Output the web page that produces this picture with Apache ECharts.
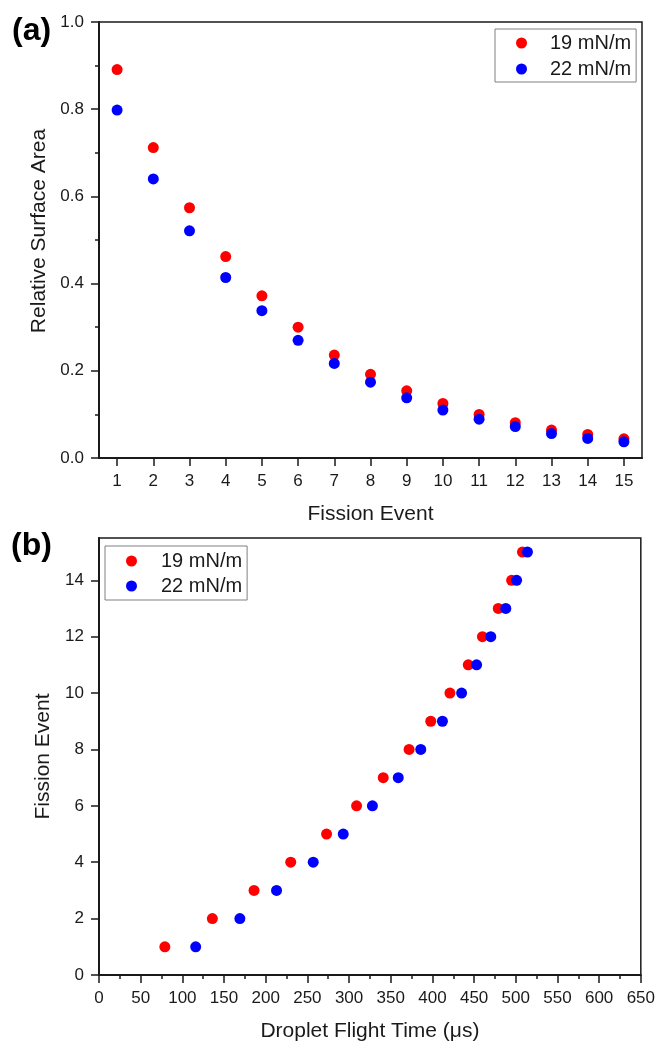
<!DOCTYPE html>
<html>
<head>
<meta charset="utf-8">
<script src="https://cdn.jsdelivr.net/npm/echarts@6/dist/echarts.min.js"></script>
<style>
html,body{margin:0;padding:0;background:#fff;}
#c{width:658px;height:1046px;}
</style>
</head>
<body>
<div id="c"></div>
<script>
// ---- Data ----
const fissionEvents = [1, 2, 3, 4, 5, 6, 7, 8, 9, 10, 11, 12, 13, 14, 15];
const seriesNames = ['19 mN/m', '22 mN/m'];
// Panel (a): relative surface area per fission event
const area19 = [0.891, 0.712, 0.574, 0.462, 0.372, 0.300, 0.236, 0.192, 0.154, 0.125, 0.100, 0.081, 0.064, 0.054, 0.044];
const area22 = [0.798, 0.640, 0.521, 0.414, 0.338, 0.270, 0.217, 0.174, 0.138, 0.110, 0.089, 0.072, 0.056, 0.045, 0.037];
// Panel (b): droplet flight time (µs) for each fission event
const time19 = [79, 136, 186, 230, 273, 309, 341, 372, 398, 421, 443, 460, 479, 495, 508];
const time22 = [116, 169, 213, 257, 293, 328, 359, 386, 412, 435, 453, 470, 488, 501, 514];
// Tick labels
const eventTicks = [0, 2, 4, 6, 8, 10, 12, 14];

const FONT = 'Liberation Sans, Arial, Helvetica, sans-serif';
const INK = '#1a1a1a';
const RED = '#ff0000';
const BLUE = '#0000ff';

const chart = echarts.init(document.getElementById('c'), null, {renderer: 'canvas'});

const axisLineStyle = {show: true, lineStyle: {color: INK, width: 2}};
const labelStyle = {color: INK, fontSize: 17, fontFamily: FONT};
const nameStyle = {color: INK, fontSize: 21, fontFamily: FONT};

function legendCfg(left, top, padding, gap, gw) {
  return {
    orient: 'vertical',
    left: left, top: top,
    padding: padding,
    itemGap: gap,
    itemWidth: 11, itemHeight: 11,
    icon: 'circle',
    borderColor: '#808080', borderWidth: 1, borderRadius: 0,
    backgroundColor: '#fff',
    data: seriesNames,
    formatter: function (n) { return '{g| }' + n; },
    textStyle: {
      color: INK, fontSize: 20, fontFamily: FONT, lineHeight: 20,
      rich: {g: {width: gw, fontSize: 20, lineHeight: 20}}
    },
    selectedMode: false
  };
}

const option = {
  backgroundColor: '#fff',
  animation: false,
  textStyle: {fontFamily: FONT},
  graphic: [
    {type: 'text', left: 12, top: 15, style: {text: '(a)', font: 'bold 32px ' + FONT, fill: '#000'}},
    {type: 'text', left: 11, top: 530, style: {text: '(b)', font: 'bold 32px ' + FONT, fill: '#000'}}
  ],
  legend: [
    legendCfg(495, 29, [4, 5, 3, 21], 6, 18),
    legendCfg(105, 546, [5, 5, 4, 21], 5, 19)
  ],
  grid: [
    {left: 99, top: 22, width: 543, height: 436, show: true, borderColor: INK, borderWidth: 1.5, containLabel: false},
    {left: 99, top: 538, width: 543, height: 437, show: true, borderColor: INK, borderWidth: 1.5, containLabel: false}
  ],
  xAxis: [
    {
      gridIndex: 0, type: 'category', data: fissionEvents.map(String), boundaryGap: true,
      name: 'Fission Event', nameLocation: 'middle', nameGap: 46, nameTextStyle: nameStyle,
      axisLine: axisLineStyle,
      axisTick: {show: true, alignWithLabel: true, interval: 0, length: 8, inside: false, lineStyle: {color: INK, width: 1.5}},
      axisLabel: Object.assign({interval: 0, margin: 15}, labelStyle),
      splitLine: {show: false}
    },
    {
      gridIndex: 1, type: 'value', min: 0, max: 650, interval: 50,
      name: 'Droplet Flight Time (\u03bcs)', nameLocation: 'middle', nameGap: 46, nameTextStyle: nameStyle,
      axisLine: axisLineStyle,
      axisTick: {show: true, length: 8, inside: false, lineStyle: {color: INK, width: 1.5}},
      minorTick: {show: true, splitNumber: 2, length: 4, lineStyle: {color: INK, width: 1.5}},
      axisLabel: Object.assign({margin: 15, showMaxLabel: true, showMinLabel: true}, labelStyle),
      splitLine: {show: false}, minorSplitLine: {show: false}
    }
  ],
  yAxis: [
    {
      gridIndex: 0, type: 'value', min: 0, max: 1, interval: 0.2,
      name: 'Relative Surface Area', nameLocation: 'middle', nameGap: 43,
      nameTextStyle: Object.assign({padding: [0, 0, 0, 18]}, nameStyle),
      axisLine: axisLineStyle,
      axisTick: {show: true, length: 8, inside: false, lineStyle: {color: INK, width: 1.5}},
      minorTick: {show: true, splitNumber: 2, length: 4, lineStyle: {color: INK, width: 1.5}},
      axisLabel: Object.assign({margin: 15, formatter: function (v) { return v.toFixed(1); }}, labelStyle),
      splitLine: {show: false}, minorSplitLine: {show: false}
    },
    {
      gridIndex: 1, type: 'value', min: 0, max: 15.5,
      name: 'Fission Event', nameLocation: 'middle', nameGap: 42, nameTextStyle: nameStyle,
      axisLine: axisLineStyle,
      axisTick: {show: true, length: 8, inside: false, customValues: eventTicks, lineStyle: {color: INK, width: 1.5}},
      axisLabel: Object.assign({margin: 15, customValues: eventTicks}, labelStyle),
      splitLine: {show: false}
    }
  ],
  series: [
    {
      name: seriesNames[0], type: 'scatter', xAxisIndex: 0, yAxisIndex: 0,
      symbol: 'circle', symbolSize: 11, itemStyle: {color: RED, opacity: 1},
      data: area19.map(function (v, i) { return [String(fissionEvents[i]), v]; })
    },
    {
      name: seriesNames[1], type: 'scatter', xAxisIndex: 0, yAxisIndex: 0,
      symbol: 'circle', symbolSize: 11, itemStyle: {color: BLUE, opacity: 1},
      data: area22.map(function (v, i) { return [String(fissionEvents[i]), v]; })
    },
    {
      name: seriesNames[0], type: 'scatter', xAxisIndex: 1, yAxisIndex: 1,
      symbol: 'circle', symbolSize: 11, itemStyle: {color: RED, opacity: 1},
      data: time19.map(function (t, i) { return [t, fissionEvents[i]]; })
    },
    {
      name: seriesNames[1], type: 'scatter', xAxisIndex: 1, yAxisIndex: 1,
      symbol: 'circle', symbolSize: 11, itemStyle: {color: BLUE, opacity: 1},
      data: time22.map(function (t, i) { return [t, fissionEvents[i]]; })
    }
  ]
};

chart.setOption(option);
</script>
</body>
</html>
